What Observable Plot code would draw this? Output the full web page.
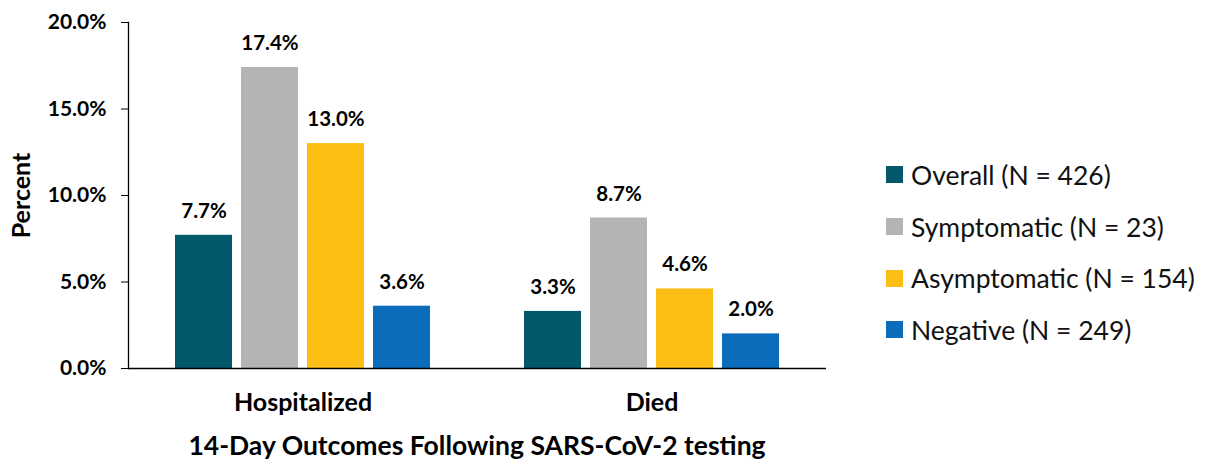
<!DOCTYPE html>
<html><head><meta charset="utf-8">
<script src="https://cdn.jsdelivr.net/npm/d3@7"></script>
<script src="https://cdn.jsdelivr.net/npm/@observablehq/plot@0.6"></script>
<style>
body{margin:0;background:#fff;font-family:Lato,"Noto Sans",sans-serif}
#wrap{position:relative;width:1207px;height:460px;overflow:hidden}
#chart{position:absolute;left:0;top:0}
#legend{position:absolute;left:886px;top:149px}
.row{display:flex;align-items:center;height:51.7px;font-size:26.5px;color:#111;white-space:nowrap}
.sw{width:17px;height:17px;margin-right:8px;flex:none}
#xtitle{position:absolute;left:477px;top:445px;transform:translate(-50%,-50%);font-size:26.5px;font-weight:bold;white-space:nowrap;color:#000}
</style></head>
<body><div id="wrap"><div id="chart"></div><div id="legend"></div><div id="xtitle"></div></div>
<script>
const outcomes = ["Hospitalized", "Died"];
const groups = ["Overall", "Symptomatic", "Asymptomatic", "Negative"];
const groupLabels = ["Overall (N = 426)", "Symptomatic (N = 23)", "Asymptomatic (N = 154)", "Negative (N = 249)"];
const colors = ["#03596b", "#b4b4b4", "#fcbe14", "#0b6cbb"];
const hospitalized = [7.7, 17.4, 13.0, 3.6];
const died = [3.3, 8.7, 4.6, 2.0];
const yTicks = [0, 5, 10, 15, 20];
const xTitle = "14-Day Outcomes Following SARS-CoV-2 testing";
const yTitle = "Percent";

const data = [];
groups.forEach((g, i) => {
  data.push({outcome: outcomes[0], group: g, value: hospitalized[i]});
  data.push({outcome: outcomes[1], group: g, value: died[i]});
});

const fmt = d => d.toFixed(1) + "%";
const chart = Plot.plot({
  width: 870,
  height: 460,
  marginLeft: 128,
  marginRight: 44,
  marginTop: 22,
  marginBottom: 92,
  style: {fontFamily: "Lato, 'Noto Sans', sans-serif", color: "#000", background: "#fff"},
  fx: {domain: outcomes, padding: 0, axis: null},
  x: {domain: groups, paddingInner: 0.13, paddingOuter: 0.69, axis: null},
  y: {domain: [0, 20], axis: null},
  color: {domain: groups, range: colors},
  marks: [
    Plot.barY(data, {fx: "outcome", x: "group", y: "value", fill: "group"}),
    Plot.text(data, {fx: "outcome", x: "group", y: "value", text: d => fmt(d.value), dy: -24, fontSize: 20.5, fontWeight: "bold", fill: "#000"}),
    Plot.ruleY([0], {stroke: "#000", strokeWidth: 1.3}),
    Plot.frame({anchor: "left", facetAnchor: "left", stroke: "#000", strokeWidth: 1.3}),
    Plot.axisY({ticks: yTicks, tickFormat: fmt, tickSize: 7, tickPadding: 15, fontSize: 21, fontWeight: "bold", label: yTitle, labelAnchor: "center", labelArrow: "none", labelOffset: 116}),
    Plot.axisFx({anchor: "bottom", tickSize: 0, tickPadding: 25, fontSize: 25, fontWeight: "bold", label: null})
  ]
});
document.getElementById("chart").appendChild(chart);

d3.select(chart).selectAll("[aria-label='y-axis label'] text").attr("font-size", 25).attr("font-weight", "bold");

const leg = d3.select("#legend");
groupLabels.forEach((l, i) => {
  const r = leg.append("div").attr("class", "row");
  r.append("div").attr("class", "sw").style("background", colors[i]);
  r.append("span").text(l);
});
document.getElementById("xtitle").textContent = xTitle;
</script></body></html>
